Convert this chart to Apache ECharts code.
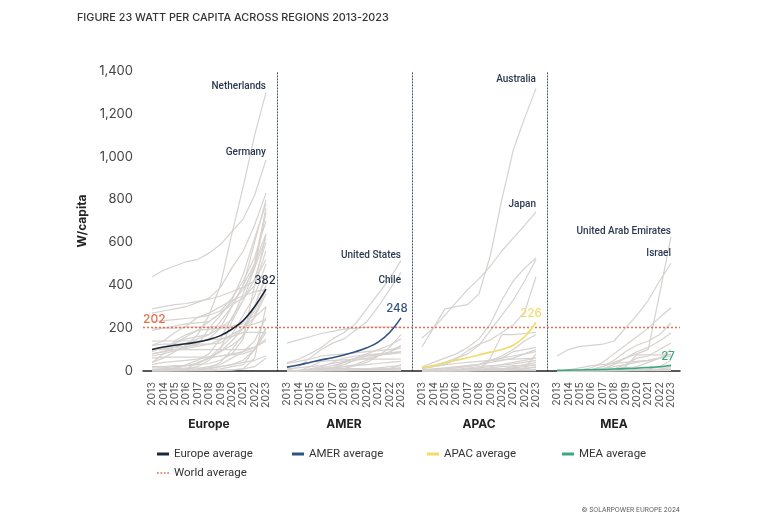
<!DOCTYPE html>
<html><head><meta charset="utf-8">
<script src="https://cdn.jsdelivr.net/npm/echarts@6/dist/echarts.min.js"></script>
<style>html,body{margin:0;padding:0;background:#fff}#c{width:768px;height:519px}</style>
</head><body><div id="c"></div>
<script>
const years = ['2013','2014','2015','2016','2017','2018','2019','2020','2021','2022','2023'];
const regions = ['Europe','AMER','APAC','MEA'];
const yTicks = {min: 0, max: 1400, interval: 200};
const worldAverage = 202;

const europeNames = ['Netherlands','Germany','Belgium','Italy','Denmark','Spain','Greece','Austria','Switzerland','Hungary','Estonia','Malta','Czechia','France','United Kingdom','Portugal','Luxembourg','Poland','Slovenia','Bulgaria','Sweden','Finland','Lithuania','Romania','Ireland','Slovakia','Croatia','Cyprus','Latvia','Norway','Türkiye','Ukraine','Serbia'];
const europeValues = [
  [40,60,90,120,170,260,400,640,860,1100,1300],
  [440,470,490,510,520,550,590,650,710,820,985],
  [270,280,290,300,320,340,390,480,560,680,830],
  [290,300,310,315,325,335,350,370,390,420,520],
  [100,105,130,150,160,170,230,300,400,600,800],
  [100,105,110,115,120,200,260,330,450,620,780],
  [230,235,240,245,250,260,280,340,420,530,700],
  [80,90,110,130,150,170,200,240,360,500,760],
  [90,110,130,160,190,230,270,320,380,480,620],
  [5,5,10,30,50,80,150,250,330,430,600],
  [2,3,5,10,20,50,100,230,330,480,740],
  [120,140,180,210,250,270,300,330,350,370,380],
  [200,200,200,205,205,205,210,210,220,260,380],
  [70,80,95,105,115,125,145,170,200,250,300],
  [40,80,140,170,190,195,200,205,210,220,240],
  [30,40,45,50,55,65,90,120,160,250,360],
  [190,200,210,220,225,230,270,310,340,400,560],
  [0,1,3,5,8,15,40,100,170,300,450],
  [120,125,125,125,125,125,130,170,260,350,500],
  [140,140,140,140,140,145,150,160,200,300,440],
  [5,10,15,25,35,60,90,140,200,280,400],
  [2,3,4,6,10,20,30,60,90,140,250],
  [20,20,25,25,30,35,50,80,150,400,640],
  [60,65,65,65,65,65,70,75,80,100,180],
  [0,1,1,2,3,5,10,20,30,100,200],
  [100,100,100,100,100,100,100,100,100,110,150],
  [5,10,12,13,14,15,20,30,50,100,200],
  [80,90,100,110,130,150,200,300,400,500,640],
  [0,0,0,0,1,2,3,5,10,60,300],
  [0,0,1,2,5,10,20,30,40,50,70],
  [0,1,3,10,40,60,70,80,90,110,140],
  [15,15,20,25,35,60,110,160,180,180,180],
  [2,2,2,2,2,2,3,5,10,20,60]
];
const amerNames = ['United States','Chile','Puerto Rico','Canada','Mexico','Brazil','Argentina','Colombia','Peru','Honduras','Panama','Uruguay','Dominican Republic','El Salvador','Jamaica','Costa Rica','Guatemala','Ecuador','Bolivia','Barbados'];
const amerValues = [
  [38,55,80,110,150,180,220,290,360,430,515],
  [2,20,60,100,130,150,190,230,300,380,460],
  [130,145,160,175,185,195,200,205,205,205,205],
  [35,45,55,70,75,80,85,90,95,100,110],
  [1,2,3,5,15,40,60,70,75,80,85],
  [0,0,0,1,5,12,25,40,70,110,170],
  [0,0,0,0,0,1,5,10,15,20,25],
  [0,0,0,0,1,1,2,3,5,10,30],
  [3,3,3,3,10,10,10,10,10,10,12],
  [0,0,20,45,50,52,55,55,55,55,56],
  [0,1,5,15,25,40,50,60,70,90,110],
  [0,0,10,20,40,60,70,75,80,85,90],
  [1,2,5,10,15,20,30,50,70,90,120],
  [0,0,2,5,15,30,50,70,75,80,90],
  [2,3,5,10,15,20,25,30,35,40,45],
  [1,2,2,3,3,4,4,5,5,6,10],
  [0,1,5,10,10,10,10,10,10,12,15],
  [0,1,1,2,2,2,2,2,2,2,2],
  [0,0,0,1,2,5,10,10,10,10,10],
  [10,15,20,25,35,45,60,80,100,120,150]
];
const apacNames = ['Australia','Japan','South Korea','Taiwan','New Zealand','Vietnam','China','Malaysia','Thailand','India','Philippines','Pakistan','Singapore','Sri Lanka','Indonesia','Bangladesh','Kazakhstan','Mongolia','Cambodia','Hong Kong','Uzbekistan'];
const apacValues = [
  [113,200,290,300,310,360,540,800,1030,1180,1319],
  [154,200,260,320,380,430,490,560,620,680,743],
  [20,40,60,80,110,150,220,330,420,480,527],
  [15,25,40,60,80,120,190,260,330,420,520],
  [5,10,15,20,25,30,40,50,60,80,100],
  [0,0,0,0,0,5,60,170,170,175,180],
  [15,20,30,55,95,125,145,180,215,275,440],
  [5,8,10,15,25,30,50,60,70,80,90],
  [10,20,30,35,40,45,50,52,55,58,60],
  [2,3,4,7,14,20,25,28,33,40,50],
  [0,0,2,8,9,9,10,10,12,14,16],
  [0,0,2,3,4,5,6,7,8,10,20],
  [5,8,10,15,20,30,50,70,100,140,170],
  [1,2,3,5,10,15,20,30,40,50,60],
  [0,0,0,0,0,0,0,0,1,1,2],
  [1,1,2,2,2,3,3,4,5,5,6],
  [0,0,0,3,4,10,50,60,90,100,110],
  [0,0,0,0,3,5,10,10,15,20,30],
  [0,0,0,0,1,5,15,20,25,25,30],
  [0,0,0,0,1,2,5,10,20,30,40],
  [0,0,0,0,0,0,0,1,5,10,80]
];
const meaNames = ['United Arab Emirates','Israel','Jordan','Lebanon','Bahrain','Oman','Qatar','Kuwait','South Africa','Saudi Arabia','Egypt','Morocco','Namibia','Tunisia','Kenya','Nigeria'];
const meaValues = [
  [2,3,5,8,20,40,60,80,100,360,627],
  [70,100,115,120,125,140,200,260,330,420,503],
  [2,3,5,15,40,80,120,160,200,250,295],
  [0,1,2,5,20,50,90,120,140,170,224],
  [0,1,3,5,10,30,60,90,110,140,177],
  [0,0,1,2,5,10,30,60,70,100,131],
  [0,0,0,0,2,5,20,75,75,75,75],
  [0,0,0,0,1,5,10,20,40,60,100],
  [0,5,15,25,30,35,40,45,50,60,80],
  [0,0,0,0,0,0,1,5,10,20,50],
  [0,0,0,0,5,10,16,17,17,18,20],
  [0,0,1,2,2,3,3,4,5,6,8],
  [0,1,2,5,10,20,30,40,50,60,70],
  [0,0,0,0,1,2,3,5,8,10,15],
  [0,0,0,1,1,2,2,3,3,4,5],
  [0,0,0,0,0,1,1,1,2,2,3]
];

const avgEurope = [100,112,120,127,135,147,165,195,235,300,382];
const avgAmer = [18,28,40,52,62,75,90,108,135,180,248];
const avgApac = [15,25,38,50,62,75,88,100,120,160,226];
const avgMea = [3,4,5,6,7,9,11,13,16,20,27];
const avgNames = ['Europe average','AMER average','APAC average','MEA average'];

(function () {
const FONT = 'Inter, "Noto Sans", sans-serif';
const LFONT = 'Roboto, "Noto Sans", sans-serif';
const avgColors = ['#1b2638','#2f5283','#f1dc6a','#3aa981'];
const avgLabelDx = [-1, -4, -5, -3];
const grey = '#d6d2cf';
const worldColor = '#e3714f';
const labelColor = '#2b3950';
const countryLabelStyle = {
  'Netherlands': {dy: -1},
  'Germany': {dy: -2},
  'United States': {dy: 0},
  'Chile': {dy: 13},
  'Australia': {dy: -4},
  'Japan': {dy: -2},
  'United Arab Emirates': {dy: 0},
  'Israel': {dy: -5}
};

const panelLeft0 = 152, panelStep = 135, panelWidth = 114, gridTop = 71, gridHeight = 300;
const grids = [], xAxes = [], yAxes = [], series = [];
const allNames = [europeNames, amerNames, apacNames, meaNames];
const allValues = [europeValues, amerValues, apacValues, meaValues];
const allAvg = [avgEurope, avgAmer, avgApac, avgMea];

for (let i = 0; i < 4; i++) {
  grids.push({left: panelLeft0 + panelStep * i, top: gridTop, width: panelWidth, height: gridHeight});
  xAxes.push({
    type: 'category', gridIndex: i, data: years, boundaryGap: false,
    axisLine: {show: false}, axisTick: {show: false},
    axisLabel: {rotate: 90, interval: 0, fontSize: 10.5, color: '#555', fontFamily: FONT, margin: 11},
    name: regions[i], nameLocation: 'middle', nameGap: 47,
    nameTextStyle: {fontSize: 12, fontWeight: 'bold', color: '#222', fontFamily: FONT}
  });
  yAxes.push({
    type: 'value', gridIndex: i, min: yTicks.min, max: yTicks.max, interval: yTicks.interval,
    axisLabel: {show: false}, axisTick: {show: false}, splitLine: {show: false},
    axisLine: {show: i > 0, onZero: false, lineStyle: {color: '#4a5670', type: [1.2, 1.8], width: 1}},
    offset: 10
  });
  allNames[i].forEach((nm, j) => {
    const ls = countryLabelStyle[nm];
    const s = {
      type: 'line', name: nm, xAxisIndex: i, yAxisIndex: i, data: allValues[i][j],
      symbol: 'none', silent: true, z: 1,
      lineStyle: {color: grey, width: 1.2}
    };
    if (ls) {
      s.endLabel = {show: true, formatter: nm, align: 'right', verticalAlign: 'bottom', distance: 0,
        offset: [0, ls.dy], fontSize: 10, fontWeight: 500, color: labelColor, fontFamily: LFONT};
    }
    series.push(s);
  });
  series.push({
    type: 'line', name: avgNames[i], xAxisIndex: i, yAxisIndex: i, smooth: 0.4,
    data: allAvg[i], symbol: 'none', z: 5, color: avgColors[i],
    lineStyle: {color: avgColors[i], width: 1.6},
    endLabel: {show: true, formatter: p => String(p.value), align: 'center', verticalAlign: 'bottom',
      distance: 0, offset: [avgLabelDx[i], -3], fontSize: 11.5, fontWeight: 500, color: avgColors[i], fontFamily: FONT}
  });
}

grids.push({left: 143, top: gridTop, width: 537, height: gridHeight});
xAxes.push({type: 'value', gridIndex: 4, min: 0, max: 1, axisLabel: {show: false}, axisTick: {show: false},
  splitLine: {show: false}, axisLine: {show: true, lineStyle: {color: '#222', width: 1.5}}});
yAxes.push({type: 'value', gridIndex: 4, min: yTicks.min, max: yTicks.max, interval: yTicks.interval,
  axisLine: {show: false}, axisTick: {show: false}, splitLine: {show: false},
  axisLabel: {color: '#444', fontSize: 13, margin: 10, fontFamily: FONT,
    formatter: v => v.toLocaleString('en-US')},
  name: 'W/capita', nameLocation: 'middle', nameGap: 50,
  nameTextStyle: {fontSize: 12, fontWeight: 'bold', color: '#222', fontFamily: FONT}});
series.push({
  type: 'line', name: 'World average', xAxisIndex: 4, yAxisIndex: 4, data: [],
  color: worldColor, symbol: 'none',
  markLine: {silent: true, symbol: 'none', z: 4,
    lineStyle: {color: worldColor, type: [2, 2], width: 1.4},
    label: {position: 'insideStartTop', formatter: String(worldAverage), color: worldColor,
      fontSize: 12, fontWeight: 500, fontFamily: FONT, distance: [0, 2]},
    data: [{yAxis: worldAverage}]}
});

const legendPos = [[152, 443], [287, 443], [422, 443], [557, 443], [152, 462]];
const legendNames = avgNames.concat(['World average']);
const legends = legendNames.map((nm, i) => ({
  data: [{name: nm,
    icon: i < 4 ? 'rect' : 'path://M0,0h2v2h-2zM4,0h2v2h-2zM8,0h2v2h-2zM12,0h2v2h-2z',
    itemStyle: {color: i < 4 ? avgColors[i] : worldColor}}],
  left: legendPos[i][0], top: legendPos[i][1], itemWidth: 12, itemHeight: i < 4 ? 3 : 2, itemGap: 8,
  selectedMode: false,
  textStyle: {fontSize: 11.5, color: '#333', fontFamily: LFONT, padding: [0, 0, 0, 0]}
}));

const chart = echarts.init(document.getElementById('c'));
chart.setOption({
  animation: false,
  backgroundColor: '#fff',
  title: {text: 'FIGURE 23 WATT PER CAPITA ACROSS REGIONS 2013-2023', left: 72, top: 7,
    textStyle: {fontSize: 10.8, fontWeight: 500, color: '#333', fontFamily: FONT}},
  grid: grids, xAxis: xAxes, yAxis: yAxes, series: series, legend: legends,
  graphic: [{type: 'text', right: 88, top: 507,
    style: {text: '© SOLARPOWER EUROPE 2024', fontSize: 6.5, fill: '#555', fontFamily: FONT}}]
});
})();
</script></body></html>
